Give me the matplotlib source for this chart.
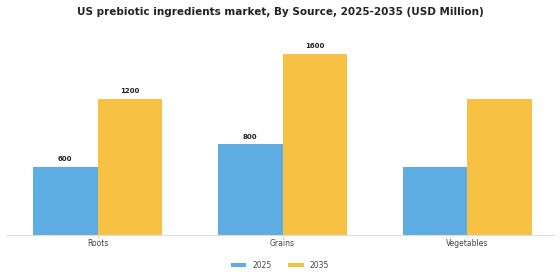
import matplotlib
matplotlib.use("Agg")
import matplotlib.pyplot as plt
import numpy as np

categories = ["Roots", "Grains", "Vegetables"]
years = ["2025", "2035"]
values_2025 = [600, 800, 600]
values_2035 = [1200, 1600, 1200]
labels_2025 = ["600", "800", ""]
labels_2035 = ["1200", "1600", ""]

colors = ["#5DADE2", "#F7C244"]

fig = plt.figure(figsize=(5.6, 2.8), dpi=100)
ax = fig.add_axes([0.0125, 0.161, 0.9775, 0.696])

x = np.arange(len(categories))
w = 0.35
b1 = ax.bar(x - w / 2, values_2025, w, color=colors[0], label=years[0])
b2 = ax.bar(x + w / 2, values_2035, w, color=colors[1], label=years[1])

for bars, labs in ((b1, labels_2025), (b2, labels_2035)):
    for rect, lab in zip(bars, labs):
        if lab:
            ax.text(rect.get_x() + rect.get_width() / 2, rect.get_height() + 40, lab,
                    ha="center", va="bottom", fontsize=5, fontweight="bold", color="#222222")

ax.set_xlim(-0.49, 2.47)
ax.set_ylim(0, 1720)
ax.set_xticks(x)
ax.set_xticklabels(categories, fontsize=5.5, color="#444444")
ax.tick_params(axis="x", length=2, width=0.6, color="#cccccc", pad=1)
ax.set_yticks([])
for s in ["top", "right", "left"]:
    ax.spines[s].set_visible(False)
ax.spines["bottom"].set_color("#dddddd")
ax.spines["bottom"].set_linewidth(0.8)

fig.suptitle("US prebiotic ingredients market, By Source, 2025-2035 (USD Million)",
             fontsize=7.5, fontweight="bold", y=0.975, x=0.5, color="#222222")

fig.legend(handles=[b1, b2], labels=years, loc="center", bbox_to_anchor=(0.5, 0.052),
           ncol=2, frameon=False, fontsize=5.5, handlelength=2.0, handleheight=0.45,
           columnspacing=2.2, handletextpad=0.8, labelcolor="#444444")

fig.savefig("out.png", dpi=100, facecolor="white")
